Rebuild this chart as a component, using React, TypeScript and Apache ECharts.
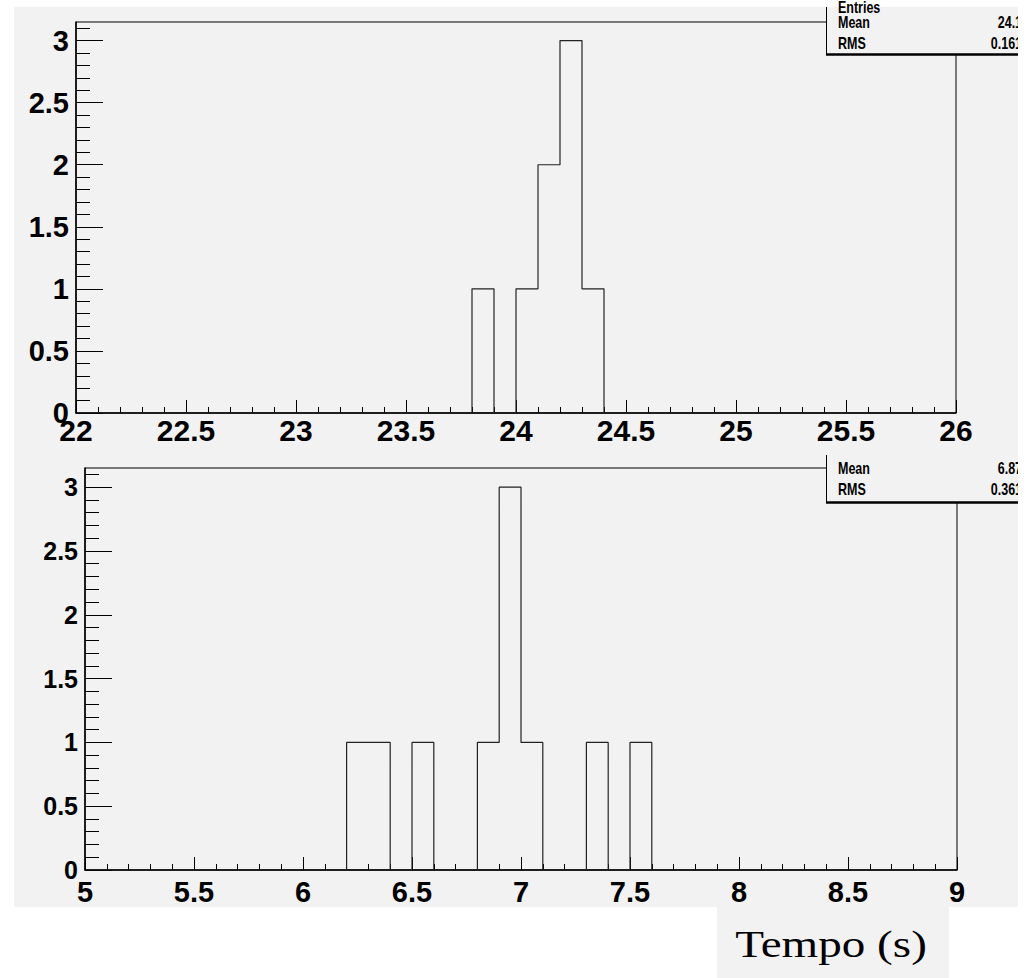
import React, { useEffect, useRef } from "react";
import * as echarts from "echarts";

// ---- data ----
const binWidth = 0.1;
const topRange = [22, 26];
const topEdges = [23.8, 23.9, 24.0, 24.1, 24.2, 24.3];
const topCounts = [1, 0, 1, 2, 3, 1];
const botRange = [5, 9];
const botEdges = [6.2, 6.3, 6.4, 6.5, 6.6, 6.7, 6.8, 6.9, 7.0, 7.1, 7.2, 7.3, 7.4, 7.5];
const botCounts = [1, 1, 0, 1, 0, 0, 1, 3, 1, 0, 0, 1, 0, 1];
const yMax = 3.15;
const yMajorTicks = [0, 0.5, 1, 1.5, 2, 2.5, 3];
const yMinorTicks = [0.1, 0.2, 0.3, 0.4, 0.6, 0.7, 0.8, 0.9, 1.1, 1.2, 1.3, 1.4, 1.6, 1.7, 1.8, 1.9, 2.1, 2.2, 2.3, 2.4, 2.6, 2.7, 2.8, 2.9, 3.1];
const statLabels = ["Entries", "Mean", "RMS"];
const topStatValues = ["8", "24.16", "0.1616"];
const botStatValues = ["6.876", "0.3616"];
const xTitle = "Tempo (s)";

const GRAY = "#f2f2f2";
const FONT = "'Liberation Sans', Arial, Helvetica, sans-serif";

function histPoints(edges: number[], counts: number[], range: number[]) {
  const pts: number[][] = [[range[0], 0]];
  edges.forEach((e, i) => pts.push([e, counts[i]]));
  pts.push([+(edges[edges.length - 1] + binWidth).toFixed(4), 0]);
  pts.push([range[1], 0]);
  return pts;
}

function xAxisCfg(grid: number, range: number[], fontSize: number, margin: number) {
  return {
    type: "value",
    gridIndex: grid,
    min: range[0],
    max: range[1],
    interval: 0.5,
    axisLine: { show: true, onZero: false, lineStyle: { color: "#000", width: 1.5 } },
    axisTick: { show: true, inside: true, length: 13, lineStyle: { color: "#000", width: 1 } },
    minorTick: { show: true, splitNumber: 5, length: 6, lineStyle: { color: "#000", width: 1 } },
    splitLine: { show: false },
    axisLabel: {
      show: true,
      margin,
      fontFamily: FONT,
      fontWeight: "bold",
      fontSize,
      color: "#000",
      formatter: (v: number) => String(v),
    },
  };
}

function yAxesCfg(grid: number, fontSize: number) {
  return [
    {
      type: "value",
      gridIndex: grid,
      position: "left",
      offset: 0,
      min: 0,
      max: yMax,
      axisLine: { show: true, onZero: false, lineStyle: { color: "#000", width: 1.5 } },
      axisTick: { show: true, inside: true, length: 27, customValues: yMajorTicks, lineStyle: { color: "#000", width: 1 } },
      splitLine: { show: false },
      axisLabel: {
        show: true,
        margin: 7,
        customValues: yMajorTicks,
        fontFamily: FONT,
        fontWeight: "bold",
        fontSize,
        color: "#000",
        formatter: (v: number) => String(v),
      },
    },
    {
      type: "value",
      gridIndex: grid,
      position: "left",
      offset: 0,
      min: 0,
      max: yMax,
      axisLine: { show: false },
      axisTick: { show: true, inside: true, length: 14, customValues: yMinorTicks, lineStyle: { color: "#000", width: 1 } },
      splitLine: { show: false },
      axisLabel: { show: false },
    },
  ];
}

function statsBox(top: number, labels: string[], values: string[], baselines: number[]) {
  const els: any[] = [
    { type: "rect", z: 10, shape: { x: 826, y: top, width: 200, height: 47 }, style: { fill: GRAY } },
    { type: "line", z: 11, shape: { x1: 826.5, y1: top, x2: 826.5, y2: top + 48 }, style: { stroke: "#000", lineWidth: 1 } },
    { type: "line", z: 11, shape: { x1: 826, y1: top + 47.5, x2: 1030, y2: top + 47.5 }, style: { stroke: "#000", lineWidth: 2.5 } },
  ];
  labels.forEach((l, i) => {
    const base = baselines[i];
    els.push({
      type: "text", z: 12, x: 838, y: base, scaleY: 1.25,
      style: { text: l, fill: "#000", font: `bold 12.5px ${FONT}`, textAlign: "left", textVerticalAlign: "bottom" },
    });
    els.push({
      type: "text", z: 12, x: 1029, y: base, scaleY: 1.25,
      style: { text: values[i], fill: "#000", font: `bold 12.5px ${FONT}`, textAlign: "right", textVerticalAlign: "bottom" },
    });
  });
  return els;
}

export default function App() {
  const ref = useRef<HTMLDivElement>(null);
  useEffect(() => {
    if (!ref.current) return;
    const chart = echarts.init(ref.current, null, { renderer: "svg" });
    const option: any = {
      animation: false,
      backgroundColor: "#fff",
      grid: [
        { left: 76, top: 22, width: 880, height: 391, show: true, borderColor: "#000", borderWidth: 1, backgroundColor: "transparent" },
        { left: 85, top: 468, width: 872, height: 402, show: true, borderColor: "#000", borderWidth: 1, backgroundColor: "transparent" },
      ],
      xAxis: [xAxisCfg(0, topRange, 30, 2), xAxisCfg(1, botRange, 29, 7)],
      yAxis: [...yAxesCfg(0, 29), ...yAxesCfg(1, 25)],
      series: [
        {
          type: "line", xAxisIndex: 0, yAxisIndex: 0, step: "end", showSymbol: false, z: 3,
          data: histPoints(topEdges, topCounts, topRange),
          lineStyle: { color: "#222", width: 1.2 },
        },
        {
          type: "line", xAxisIndex: 1, yAxisIndex: 2, step: "end", showSymbol: false, z: 3,
          data: histPoints(botEdges, botCounts, botRange),
          lineStyle: { color: "#222", width: 1.2 },
        },
      ],
      graphic: [
        { type: "rect", z: -1, silent: true, shape: { x: 14, y: 7, width: 1004, height: 900 }, style: { fill: GRAY } },
        { type: "rect", z: -1, silent: true, shape: { x: 717, y: 907, width: 232, height: 71 }, style: { fill: GRAY } },
        ...statsBox(7, statLabels, topStatValues, [16, 31, 52]),
        ...statsBox(455, statLabels.slice(1), botStatValues, [477, 498]),
        { type: "rect", z: 20, shape: { x: 1018, y: 0, width: 12, height: 978 }, style: { fill: "#fff" } },
        {
          type: "text", z: 21, x: 831, y: 944, scaleX: 1.24,
          style: { text: xTitle, fill: "#000", font: "38px 'Liberation Serif', 'Times New Roman', serif", textAlign: "center", textVerticalAlign: "middle" },
        },
      ],
    };
    chart.setOption(option);
    return () => chart.dispose();
  }, []);
  return <div ref={ref} style={{ position: "absolute", left: 0, top: 0, width: 1030, height: 978 }} />;
}
